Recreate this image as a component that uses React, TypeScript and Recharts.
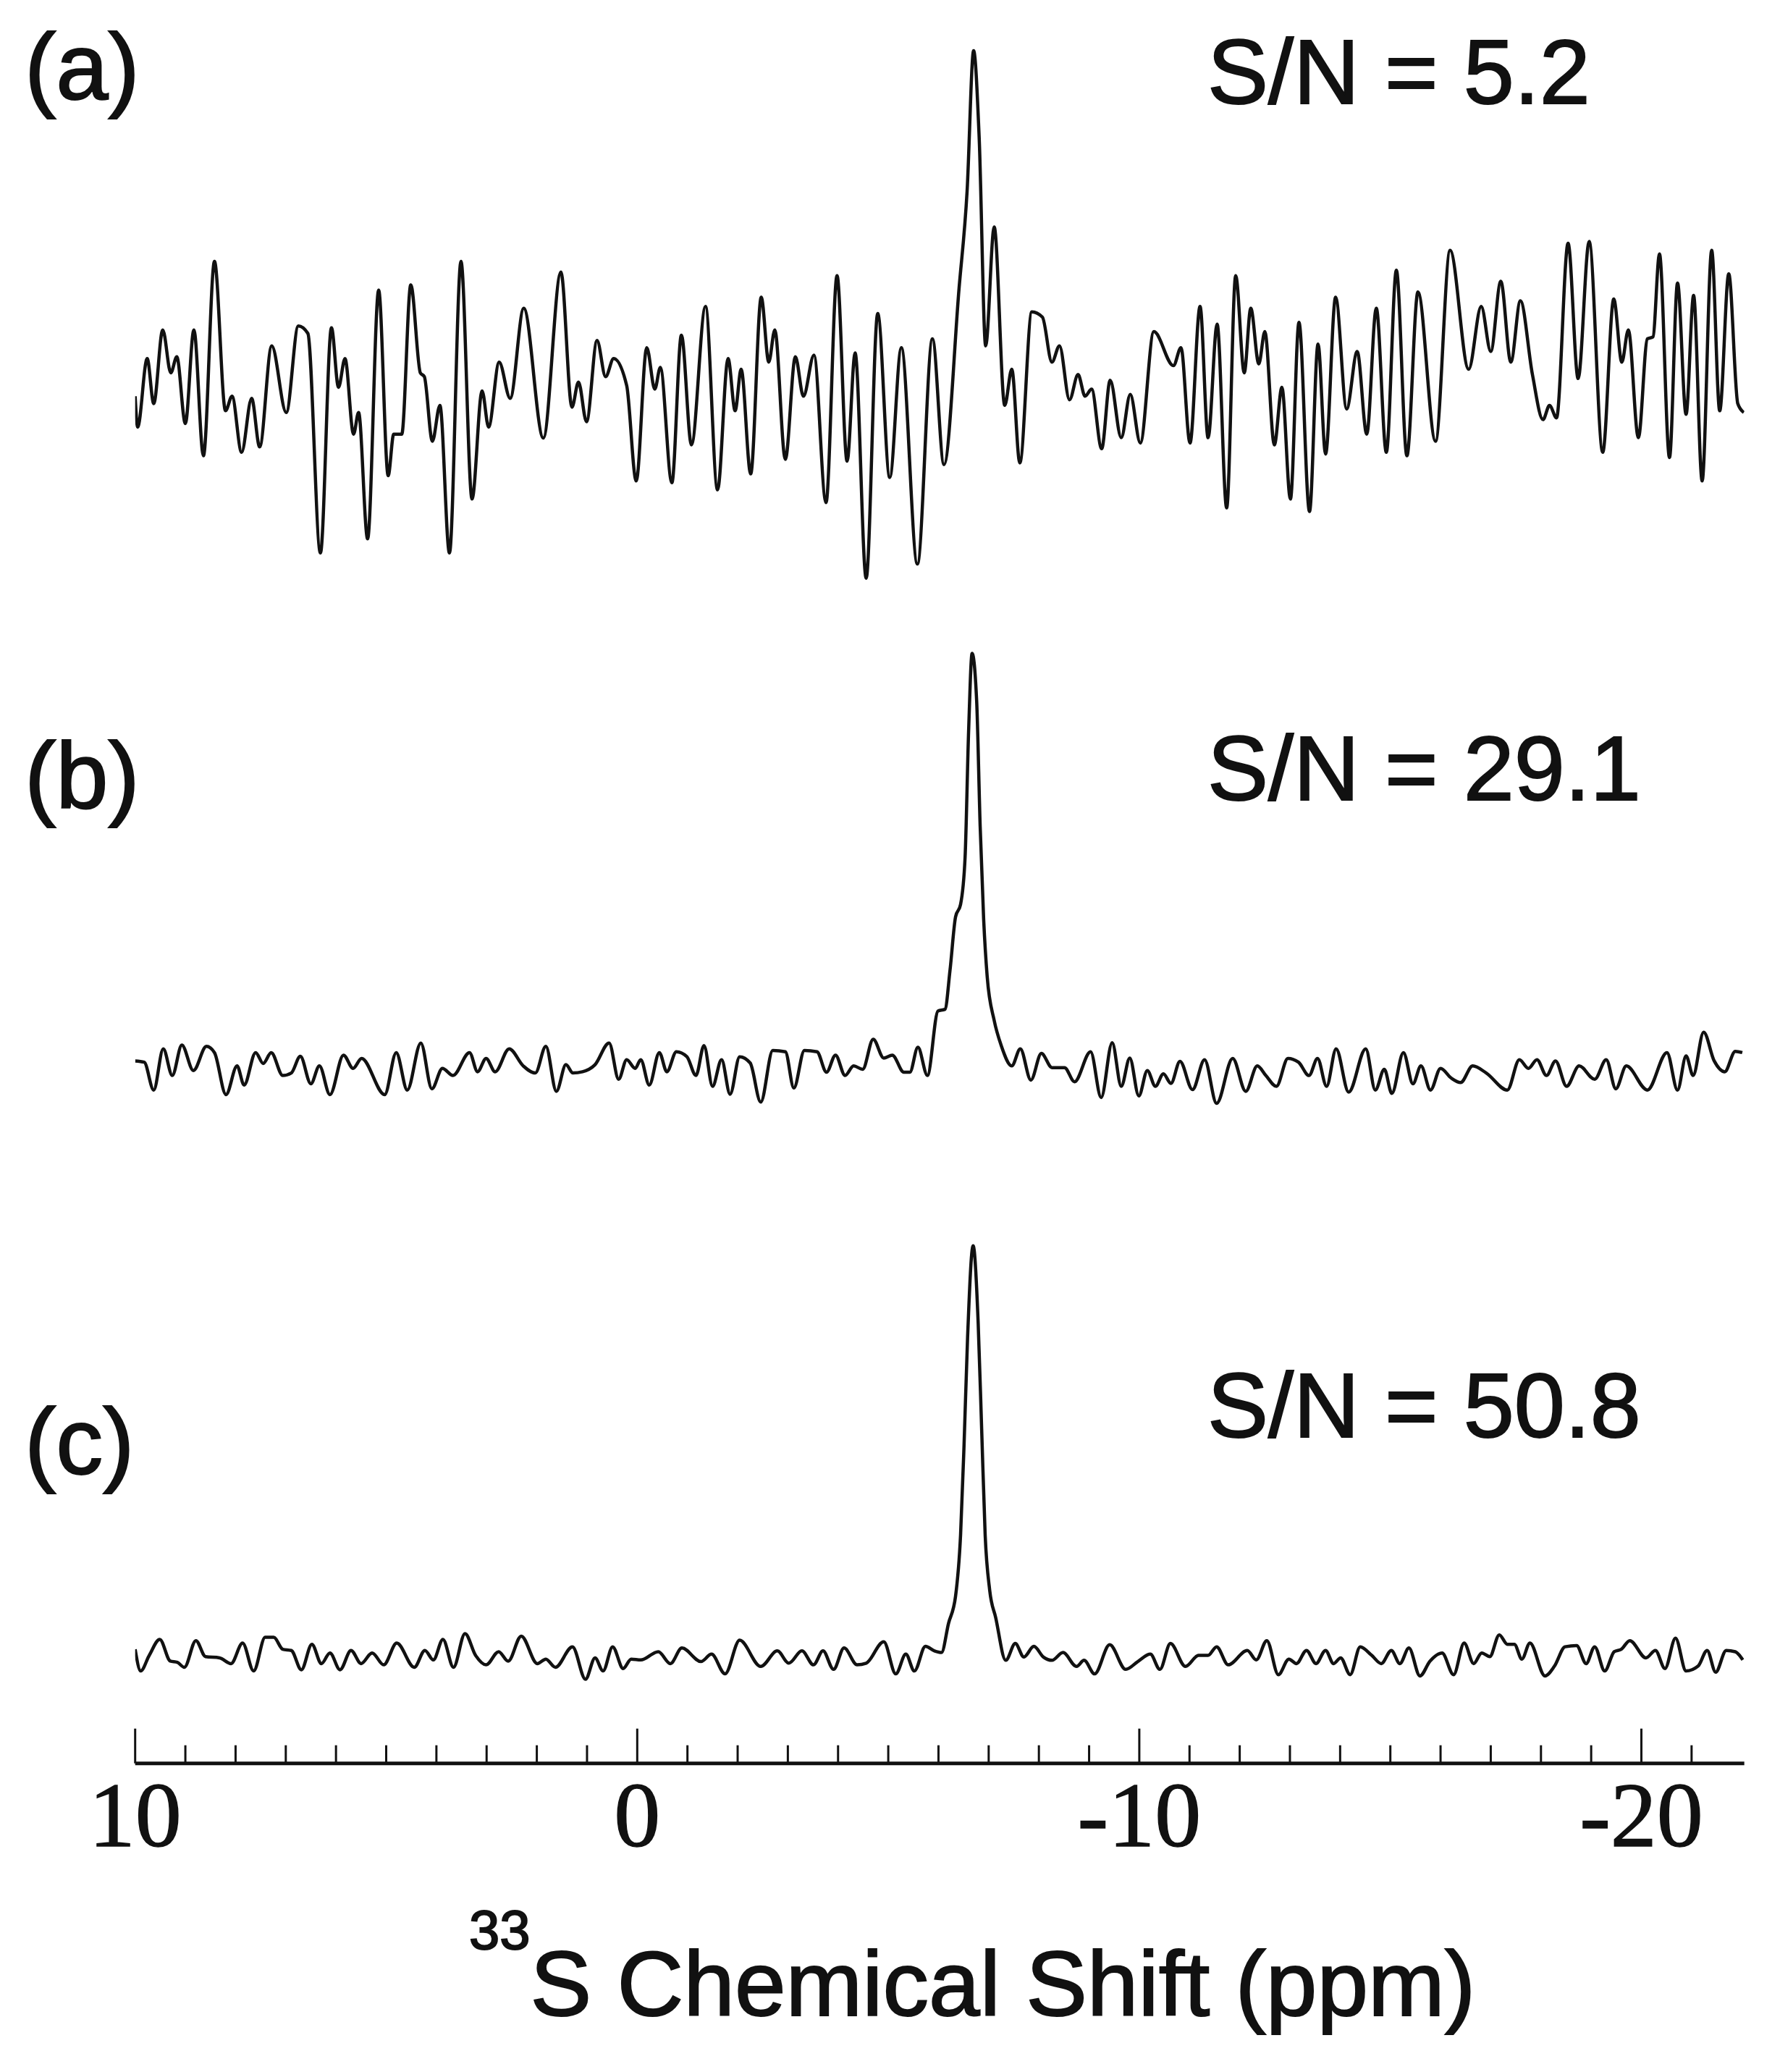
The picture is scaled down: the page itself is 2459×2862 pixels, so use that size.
import React from 'react';
import { LineChart, Line, XAxis, YAxis } from 'recharts';

const W = 2459;
const H = 2862;

// each trace: [chemical shift (ppm), intensity in % of its main peak]
const traceA: [number, number][] = [
  [10.0, 2.6], [9.95, -6.1], [9.76, 13.2], [9.63, 0.5], [9.45, 21.3], [9.29, 9.2], [9.17, 13.7], [9.0, -5.1],
  [8.83, 21.3], [8.64, -14.2], [8.42, 40.6], [8.2, -1.5], [8.07, 2.6], [7.88, -13.2], [7.68, 2.0], [7.52, -11.7],
  [7.28, 16.8], [6.99, -2.0], [6.75, 22.4], [6.56, 20.3], [6.31, -41.6], [6.09, 21.9], [5.95, 5.1], [5.82, 13.2],
  [5.65, -8.1], [5.55, -2.0], [5.37, -37.6], [5.15, 32.5], [4.96, -19.8], [4.85, -8.1], [4.69, -8.1], [4.51, 34.0],
  [4.32, 9.2], [4.24, 8.1], [4.08, -10.1], [3.93, 0.0], [3.74, -41.6], [3.51, 40.6], [3.29, -26.4], [3.09, 4.1],
  [2.96, -6.1], [2.75, 12.2], [2.53, 2.0], [2.26, 27.4], [1.87, -9.2], [1.52, 37.6], [1.3, -0.5], [1.17, 6.6],
  [1.01, -4.6], [0.8, 18.3], [0.63, 8.1], [0.47, 13.2], [0.21, 5.6], [0.02, -21.3], [-0.19, 16.3], [-0.35, 4.6],
  [-0.46, 10.7], [-0.69, -21.8], [-0.88, 19.8], [-1.08, -11.1], [-1.36, 27.9], [-1.6, -23.8], [-1.81, 13.2],
  [-1.95, -1.5], [-2.07, 10.2], [-2.26, -19.3], [-2.47, 30.5], [-2.62, 12.2], [-2.74, 21.3], [-2.95, -15.2],
  [-3.15, 13.7], [-3.31, 2.6], [-3.52, 14.2], [-3.76, -27.4], [-3.98, 36.6], [-4.18, -15.7], [-4.34, 14.8],
  [-4.56, -48.7], [-4.79, 25.9], [-5.03, -20.3], [-5.26, 16.3], [-5.58, -44.7], [-5.88, 18.8], [-6.11, -16.7],
  [-6.41, 33.0], [-6.57, 60.4], [-6.7, 100], [-6.81, 75.7], [-6.94, 16.8], [-7.11, 50.3], [-7.32, 0.0],
  [-7.46, 10.2], [-7.62, -16.2], [-7.86, 26.4], [-8.07, 24.9], [-8.26, 12.2], [-8.41, 16.8], [-8.61, 1.6],
  [-8.78, 8.7], [-8.92, 2.6], [-9.05, 4.6], [-9.25, -12.2], [-9.42, 7.1], [-9.64, -9.1], [-9.82, 3.1],
  [-10.02, -10.6], [-10.29, 20.8], [-10.68, 11.2], [-10.83, 16.3], [-11.01, -10.6], [-11.21, 27.9],
  [-11.37, -9.1], [-11.55, 22.9], [-11.74, -28.9], [-11.92, 36.6], [-12.09, 9.2], [-12.22, 27.4], [-12.38, 11.7],
  [-12.5, 20.8], [-12.69, -11.1], [-12.84, 5.1], [-13.01, -26.4], [-13.18, 23.4], [-13.39, -29.9], [-13.56, 17.3],
  [-13.71, -13.7], [-13.91, 30.5], [-14.13, -1.0], [-14.34, 15.2], [-14.53, -8.1], [-14.72, 27.4], [-14.92, -13.2],
  [-15.12, 38.1], [-15.33, -14.2], [-15.55, 32.0], [-15.9, -10.1], [-16.19, 43.7], [-16.56, 10.2], [-16.81, 27.9],
  [-17.0, 15.2], [-17.2, 35.0], [-17.4, 12.2], [-17.59, 29.5], [-17.83, 8.7], [-18.04, -4.0], [-18.17, 0.0],
  [-18.31, -3.5], [-18.54, 45.7], [-18.74, 7.6], [-18.96, 46.2], [-19.23, -13.2], [-19.45, 30.0], [-19.61, 12.2],
  [-19.74, 21.3], [-19.94, -9.1], [-20.12, 18.8], [-20.23, 19.3], [-20.36, 42.7], [-20.56, -14.7], [-20.72, 34.5],
  [-20.89, -2.5], [-21.04, 31.0], [-21.21, -21.3], [-21.4, 43.7], [-21.56, -1.5], [-21.74, 37.1], [-21.92, 0.5],
  [-22.04, -2.0],
];

const traceB: [number, number][] = [
  [10.0, 2.1], [9.82, 1.8], [9.63, -4.9], [9.44, 5.0], [9.26, -1.4], [9.07, 5.9], [8.84, -0.2], [8.58, 5.6],
  [8.42, 4.1], [8.19, -6.0], [7.97, 0.9], [7.83, -3.7], [7.6, 4.1], [7.45, 1.5], [7.29, 4.1], [7.06, -1.4],
  [6.89, -0.8], [6.71, 3.2], [6.5, -3.4], [6.33, 0.9], [6.12, -6.0], [5.85, 3.5], [5.66, 0.3], [5.49, 2.7],
  [5.03, -6.0], [4.8, 4.1], [4.58, -4.9], [4.31, 6.4], [4.09, -4.6], [3.88, 0.3], [3.67, -1.4], [3.34, 4.1],
  [3.18, -0.5], [3.01, 2.7], [2.83, -0.5], [2.55, 5.0], [2.27, 0.9], [2.03, -0.8], [1.82, 5.6], [1.61, -5.2],
  [1.42, 1.2], [1.28, -0.8], [1.09, -0.5], [0.84, 1.2], [0.56, 6.4], [0.37, -2.3], [0.21, 2.4], [0.04, 0.3],
  [-0.07, 2.4], [-0.24, -3.7], [-0.44, 4.1], [-0.59, -0.5], [-0.78, 4.3], [-0.99, 3.1], [-1.17, -1.4],
  [-1.33, 5.8], [-1.5, -4.0], [-1.68, 2.4], [-1.85, -5.9], [-2.04, 3.1], [-2.25, 1.6], [-2.46, -7.8],
  [-2.7, 4.6], [-2.95, 4.3], [-3.12, -4.4], [-3.33, 4.6], [-3.58, 4.3], [-3.77, -0.6], [-3.95, 3.5],
  [-4.14, -1.4], [-4.31, 0.9], [-4.49, 0.1], [-4.7, 7.3], [-4.91, 2.8], [-5.08, 3.5], [-5.31, -0.6],
  [-5.43, -0.6], [-5.59, 5.4], [-5.78, -1.4], [-5.99, 14.1], [-6.13, 14.5], [-6.23, 23.9], [-6.34, 36.7],
  [-6.44, 39.7], [-6.53, 51.0], [-6.6, 81.2], [-6.67, 100], [-6.76, 88.7], [-6.83, 58.6], [-6.9, 36.1],
  [-6.97, 22.4], [-7.11, 11.8], [-7.25, 5.8], [-7.46, 0.9], [-7.63, 5.0], [-7.84, -2.5], [-8.05, 3.9],
  [-8.26, 0.5], [-8.51, 0.5], [-8.71, -2.9], [-9.03, 4.3], [-9.24, -6.7], [-9.46, 6.5], [-9.64, -4.0],
  [-9.81, 2.8], [-9.99, -6.3], [-10.16, -0.2], [-10.32, -4.0], [-10.48, -1.0], [-10.63, -3.3], [-10.81, 2.0],
  [-11.06, -4.8], [-11.3, 2.4], [-11.54, -8.1], [-11.86, 2.7], [-12.12, -5.2], [-12.35, 0.9], [-12.52, -1.4],
  [-12.73, -4.0], [-12.96, 2.7], [-13.17, 1.8], [-13.38, -1.4], [-13.55, 2.7], [-13.73, -4.0], [-13.92, 5.0],
  [-14.17, -5.4], [-14.51, 5.0], [-14.7, -4.9], [-14.88, 0.1], [-15.03, -5.7], [-15.26, 4.1], [-15.45, -3.4],
  [-15.61, 0.9], [-15.8, -4.9], [-16.0, 0.3], [-16.21, -2.0], [-16.4, -3.1], [-16.64, 0.9], [-16.91, -0.8],
  [-17.33, -4.9], [-17.57, 2.4], [-17.75, 0.3], [-17.92, 2.4], [-18.11, -1.4], [-18.29, 2.1], [-18.51, -4.0],
  [-18.76, 0.9], [-19.07, -2.3], [-19.3, 2.4], [-19.49, -4.6], [-19.7, 0.9], [-20.12, -4.9], [-20.51, 4.1],
  [-20.72, -4.9], [-20.89, 3.3], [-21.03, -1.4], [-21.24, 9.0], [-21.45, 2.1], [-21.66, -0.5], [-21.87, 4.4],
  [-22.01, 4.1],
];

const traceC: [number, number][] = [
  [10.0, 1.7], [9.89, -3.6], [9.72, 0.2], [9.51, 4.1], [9.3, -1.2], [9.16, -1.5], [9.02, -2.7], [8.79, 3.8],
  [8.6, -0.1], [8.32, -0.4], [8.09, -1.8], [7.86, 3.2], [7.64, -3.6], [7.41, 4.6], [7.24, 4.6], [7.06, 1.7],
  [6.89, 1.4], [6.69, -3.3], [6.48, 2.9], [6.29, -1.8], [6.12, 0.8], [5.92, -3.3], [5.7, 1.4], [5.5, -1.8],
  [5.28, 0.8], [5.05, -2.1], [4.79, 3.2], [4.44, -2.7], [4.23, 1.4], [4.06, -0.9], [3.87, 4.1], [3.66, -2.7],
  [3.43, 5.5], [3.22, 0.2], [3.01, -2.1], [2.76, 1.1], [2.57, -1.2], [2.31, 4.9], [1.99, -1.8], [1.82, -0.7],
  [1.63, -2.7], [1.29, 2.3], [1.03, -5.6], [0.84, -0.4], [0.68, -3.6], [0.49, 2.3], [0.28, -3.0], [0.12, -0.7],
  [-0.07, -0.9], [-0.42, 1.1], [-0.66, -1.8], [-0.89, 2.0], [-1.27, -1.3], [-1.48, 0.5], [-1.75, -4.3],
  [-2.04, 3.9], [-2.46, -2.5], [-2.79, 1.3], [-3.02, -1.7], [-3.28, 1.3], [-3.51, -2.1], [-3.7, 1.3],
  [-3.91, -3.2], [-4.12, 2.0], [-4.38, -2.1], [-4.56, -1.7], [-4.91, 3.5], [-5.15, -4.3], [-5.35, 0.5],
  [-5.52, -3.6], [-5.74, 2.4], [-5.92, 1.3], [-6.06, 0.9], [-6.2, 8.0], [-6.34, 14.6], [-6.44, 29.5],
  [-6.51, 51.7], [-6.58, 77.7], [-6.69, 100], [-6.79, 81.4], [-6.86, 55.4], [-6.93, 29.5], [-7.02, 16.1],
  [-7.14, 9.4], [-7.34, -1.0], [-7.53, 3.1], [-7.7, -0.2], [-7.9, 2.4], [-8.09, -0.2], [-8.26, -1.0],
  [-8.48, 0.9], [-8.75, -2.5], [-8.9, -1.0], [-9.11, -4.3], [-9.41, 2.8], [-9.73, -3.2], [-9.97, -1.3],
  [-10.22, 0.5], [-10.41, -3.2], [-10.62, 3.1], [-10.92, -2.5], [-11.18, 0.2], [-11.37, 0.2], [-11.54, 2.3],
  [-11.77, -2.1], [-12.15, 1.4], [-12.33, -0.9], [-12.54, 3.8], [-12.77, -4.5], [-12.98, -0.7], [-13.13, -1.8],
  [-13.33, 1.4], [-13.52, -1.8], [-13.71, 1.4], [-13.87, -1.8], [-14.01, -0.4], [-14.2, -4.5], [-14.4, 2.3],
  [-14.63, 0.2], [-14.82, -1.8], [-15.02, 1.4], [-15.19, -1.8], [-15.37, 2.0], [-15.59, -4.8], [-15.79, -1.2],
  [-16.03, 0.8], [-16.26, -4.5], [-16.47, 3.2], [-16.66, -1.8], [-16.82, 0.8], [-16.98, -0.1], [-17.17, 5.2],
  [-17.33, 2.9], [-17.47, 2.9], [-17.62, -0.7], [-17.78, 3.2], [-18.08, -4.8], [-18.27, -2.4], [-18.48, 2.3],
  [-18.71, 2.6], [-18.9, -1.8], [-19.07, 2.3], [-19.27, -3.6], [-19.46, 1.1], [-19.6, 1.7], [-19.77, 3.8],
  [-20.09, -0.4], [-20.28, 1.4], [-20.47, -3.0], [-20.68, 4.4], [-20.89, -3.6], [-21.13, -2.4], [-21.31, 1.4],
  [-21.48, -3.9], [-21.69, 1.4], [-21.87, 1.1], [-22.02, -0.9],
];

const ppmTicks = [10, 9, 8, 7, 6, 5, 4, 3, 2, 1, 0, -1, -2, -3, -4, -5, -6, -7, -8, -9, -10,
  -11, -12, -13, -14, -15, -16, -17, -18, -19, -20, -21];
const majorTicks = [10, 0, -10, -20];
const panelLabels = ['(a)', '(b)', '(c)'];
const snrValues = ['5.2', '29.1', '50.8'];

const X_DOMAIN: [number, number] = [-22.05, 10];
const PLOT_LEFT = 186.7;
const PLOT_RIGHT = 2409.7;
const AXIS_H = 300;

const SANS = "'Liberation Sans', Arial, Helvetica, sans-serif";
const SERIF = "'Liberation Serif', 'Times New Roman', serif";
const INK = '#111';

// vertical placement of each panel: y pixel of zero intensity, px per % unit, y domain
const panels = [
  { trace: traceA, base: 560, k: 4.9, lo: -60, hi: 110, axis: false, labelY: 137, snrY: 143 },
  { trace: traceB, base: 1477, k: 5.75, lo: -15, hi: 110, axis: false, labelY: 1116, snrY: 1105 },
  { trace: traceC, base: 2288, k: 5.67, lo: -26.1, hi: 110, axis: true, labelY: 2036, snrY: 1985 },
];

const PpmTick = (props: any) => {
  const { x, y, payload } = props;
  const v = payload.value;
  const major = majorTicks.includes(v);
  return (
    <g>
      <line x1={x} x2={x} y1={y} y2={y - (major ? 48 : 25)} stroke={INK} strokeWidth={3} />
      {major && (
        <text
          x={x}
          y={y + 114}
          textAnchor="middle"
          fontFamily={SERIF}
          fontSize={128}
          fill={INK}
          stroke={INK}
          strokeWidth={1.5}
        >
          {String(v)}
        </text>
      )}
    </g>
  );
};

const SpectrumPanel = ({ trace, base, k, lo, hi, axis }: any) => {
  const data = trace.map(([ppm, v]: [number, number]) => ({ ppm, v }));
  const plotH = (hi - lo) * k;
  const axisH = axis ? AXIS_H : 0;
  const top = base - hi * k;
  return (
    <div style={{ position: 'absolute', left: 0, top, width: W, height: plotH + axisH }}>
      <LineChart
        width={W}
        height={plotH + axisH}
        data={data}
        margin={{ top: 0, right: W - PLOT_RIGHT, bottom: 0, left: PLOT_LEFT }}
      >
        <XAxis
          dataKey="ppm"
          type="number"
          domain={X_DOMAIN}
          reversed
          allowDataOverflow
          hide={!axis}
          height={axisH}
          ticks={ppmTicks}
          interval={0}
          tickLine={false}
          tickSize={0}
          tickMargin={0}
          tick={(p: any) => <PpmTick {...p} />}
          axisLine={{ stroke: INK, strokeWidth: 5 }}
        />
        <YAxis hide domain={[lo, hi]} allowDataOverflow />
        <Line
          dataKey="v"
          type="monotoneX"
          stroke={INK}
          strokeWidth={4.5}
          strokeLinejoin="round"
          dot={false}
          isAnimationActive={false}
        />
      </LineChart>
    </div>
  );
};

export default function App() {
  return (
    <div
      style={{
        position: 'absolute',
        left: 0,
        top: 0,
        width: W,
        height: H,
        background: '#fff',
        overflow: 'hidden',
      }}
    >
      {panels.map((p, i) => (
        <SpectrumPanel key={i} {...p} />
      ))}
      <svg
        width={W}
        height={H}
        style={{ position: 'absolute', left: 0, top: 0, pointerEvents: 'none' }}
      >
        {panels.map((p, i) => (
          <g key={i} fontFamily={SANS} fill={INK} stroke={INK} strokeWidth={2}>
            <text x={34} y={p.labelY} fontSize={130}>
              {panelLabels[i]}
            </text>
            <text x={1668} y={p.snrY} fontSize={126}>
              {`S/N = ${snrValues[i]}`}
            </text>
          </g>
        ))}
        <text x={648} y={2784} fontFamily={SANS} fontSize={127} fill={INK} stroke={INK} strokeWidth={2}>
          <tspan fontSize={76} dy={-92}>33</tspan>
          <tspan dy={92}>S Chemical Shift (ppm)</tspan>
        </text>
      </svg>
    </div>
  );
}
